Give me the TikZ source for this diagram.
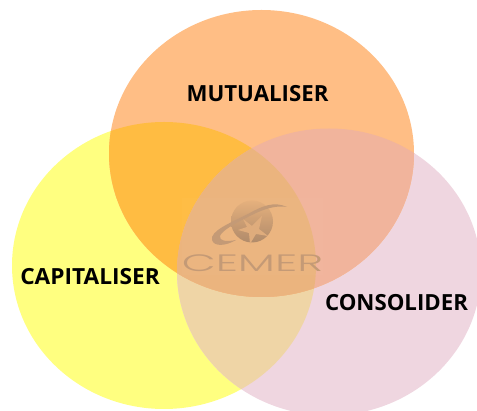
\documentclass[tikz,border=0pt]{standalone}
\usepackage{fontspec}
\setmainfont{Open Sans}
\newfontfamily\logofont{Poppins Light}
\usetikzlibrary{shapes.geometric, positioning, calc}
\definecolor{mutcol}{HTML}{FFBE85}
\definecolor{capcol}{HTML}{FFFF80}
\definecolor{concol}{HTML}{EFD6E0}
\definecolor{mutcap}{HTML}{FFBC42}
\definecolor{mutcon}{HTML}{F1B49C}
\definecolor{capcon}{HTML}{EFD5A6}
\definecolor{allcol}{HTML}{EBB47E}
\definecolor{logocol}{HTML}{C49A76}
\newcommand{\mutpath}{(261.5,153.5) ellipse (152.5 and 143.5)}
\newcommand{\cappath}{(164,265.5) ellipse (152 and 143.5)}
\newcommand{\conpath}{(329,272) ellipse (152 and 143.5)}
\tikzset{
  label/.style={font=\bfseries\fontsize{12.65}{14}\selectfont, text=black, inner sep=0pt},
  logotext/.style={font=\logofont\fontsize{13.5}{14}\selectfont, text=logocol, inner sep=0pt}
}
\begin{document}
\begin{tikzpicture}[x=0.02cm, y=-0.02cm]
\useasboundingbox (0,0) rectangle (477,411);
% Three circles
\fill[capcol] \cappath;
\fill[concol] \conpath;
\fill[mutcol] \mutpath;
% Overlaps
\begin{scope}
\clip \cappath;
\fill[capcon] \conpath;
\fill[mutcap] \mutpath;
\end{scope}
\begin{scope}
\clip \conpath;
\fill[mutcon] \mutpath;
\end{scope}
\begin{scope}
\clip \cappath;
\clip \conpath;
\fill[allcol] \mutpath;
\end{scope}
% Logo
\fill[white, opacity=0.02] (182,198) rectangle (323,275);
\shade[top color=allcol!85!logocol, bottom color=logocol!90!black] (252,221.5) circle (21);
\fill[allcol!70!logocol] (243,219) -- (252,226) -- (262,216) -- (259,229) -- (268,236) -- (256,234) -- (250,244) -- (249,233) -- (238,230) -- (247,227) -- cycle;
\fill[logocol] (287,207) .. controls (274,201) and (262,206) .. (248,214) .. controls (230,223) and (210,231) .. (212,240) .. controls (214,247) and (226,246) .. (236,240) .. controls (226,242) and (219,241) .. (220,236) .. controls (222,230) and (238,222) .. (252,215) .. controls (264,209) and (276,205) .. (287,207) -- cycle;
\node[logotext, xscale=1.86] (logoname) at (252.5,263.5) {CEMER};
% Labels
\node[label] (mutualiser) at (257.5,94) {MUTUALISER};
\node[label, xscale=1.02] (capitaliser) at (90,276.5) {CAPITALISER};
\node[label] (consolider) at (396.5,302.5) {CONSOLIDER};
\end{tikzpicture}
\end{document}
